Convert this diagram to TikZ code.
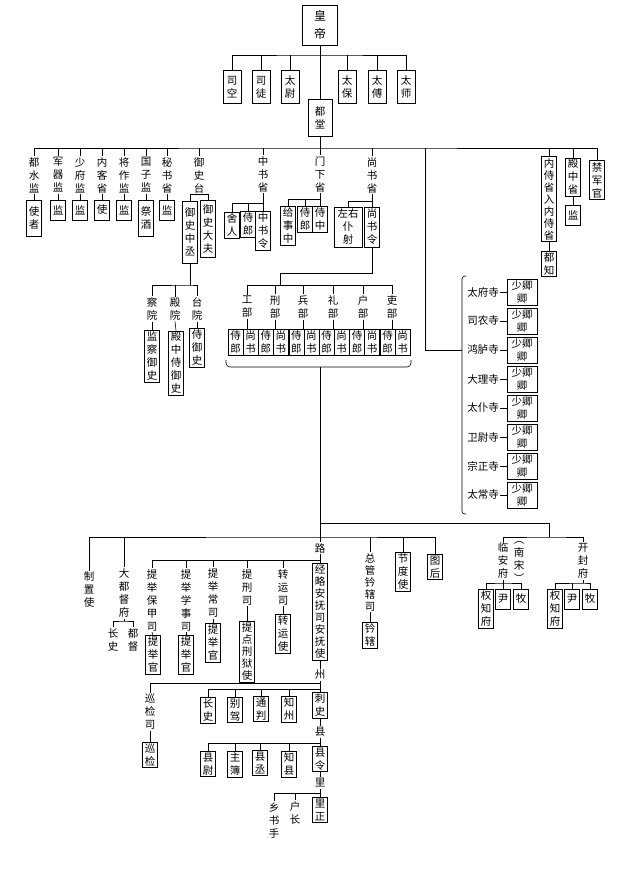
\documentclass[tikz,border=0pt]{standalone}
\usepackage{fontspec}
\newfontfamily\cjk{Noto Sans CJK SC}
\tikzset{
  box/.style = {draw, align=center, inner sep=1.5pt, minimum width=15pt, minimum height=20pt, font=\cjk\fontsize{10.5}{13}\selectfont},
  lbl/.style = {align=center, inner sep=1pt, font=\cjk\fontsize{10.5}{13}\selectfont},
  tightfont/.style = {font=\cjk\fontsize{10.5}{12}\selectfont}
}
\begin{document}
\begin{tikzpicture}[x=1pt, y=-1pt, line width=0.6pt]
\useasboundingbox (0,0) rectangle (640,870);

\node[box, minimum width=35pt, minimum height=40pt, font=\cjk\fontsize{12}{18}\selectfont] (hd) at (320,25) {皇\\帝};
\node[box, minimum width=18pt, minimum height=33pt] (sk) at (232,87) {司\\空};
\node[box, minimum width=18pt, minimum height=33pt] (st) at (261,87) {司\\徒};
\node[box, minimum width=18pt, minimum height=33pt] (tw) at (290,87) {太\\尉};
\node[box, minimum width=18pt, minimum height=33pt] (tb) at (347,87) {太\\保};
\node[box, minimum width=18pt, minimum height=33pt] (tf) at (377,87) {太\\傅};
\node[box, minimum width=18pt, minimum height=33pt] (ts) at (406,87) {太\\师};
\node[box, minimum width=24pt, minimum height=37pt] (dt) at (320,118) {都\\堂};
\coordinate (b1) at (320,55);
\coordinate (b2) at (320,148);
\draw (hd) -- (dt);
\draw (sk.north) |- (b1) -| (ts.north);
\foreach \n in {st,tw,tb,tf} \draw (\n.north) -- (\n.north |- b1);
\draw (dt.south) -- (b2);

\node[lbl] (dsj) at (34,175) {都\\水\\监};
\node[lbl] (jqj) at (58,175) {军\\器\\监};
\node[lbl] (sfj) at (80,175) {少\\府\\监};
\node[lbl] (nks) at (102,175) {内\\客\\省};
\node[lbl] (jzj) at (124,175) {将\\作\\监};
\node[lbl] (gzj) at (146,175) {国\\子\\监};
\node[lbl] (msx) at (167,175) {秘\\书\\省};
\node[lbl] (yst) at (199,175) {御\\史\\台};
\node[box, minimum height=36pt] (dsjb) at (34,218) {使\\者};
\node[box] (jqjb) at (58,210) {监};
\node[box] (sfjb) at (80,210) {监};
\node[box] (nksb) at (102,210) {使};
\node[box] (jzjb) at (124,210) {监};
\node[box, minimum height=36pt] (gzjb) at (146,218) {祭\\酒};
\node[box] (msxb) at (167,210) {监};
\foreach \n in {dsj,jqj,sfj,nks,jzj,gzj,msx} \draw (\n.south) -- (\n b.north);
\node[box, minimum height=62pt] (yszc) at (190,232) {御\\史\\中\\丞};
\node[box, minimum height=57pt] (ysdf) at (208,229) {御\\史\\大\\夫};
\draw (yszc.north) |- (yst.south) -| (ysdf.north);

\node[lbl] (zsx) at (263,174) {中\\书\\省};
\node[box] (sheren) at (232,225) {舍\\人};
\node[box] (zslang) at (248,224) {侍\\郎};
\node[box] (zsl) at (263,231) {中\\书\\令};
\coordinate (zsbus) at (263,203);
\draw (zsx.south) -- (zsl.north);
\draw (sheren.north) |- (zsbus);
\draw (zslang.north) -- (zslang.north |- zsbus);

\node[lbl] (mxs) at (320,174) {门\\下\\省};
\node[box] (jsz) at (288,226) {给\\事\\中};
\node[box] (mxlang) at (305,219) {侍\\郎};
\node[box] (sz) at (320,219) {侍\\中};
\coordinate (mxbus) at (320,199);
\draw (mxs.south) -- (sz.north);
\draw (jsz.north) |- (mxbus);
\draw (mxlang.north) -- (mxlang.north |- mxbus);

\node[lbl] (ssx) at (372,175) {尚\\书\\省};
\node[box, minimum width=28pt, minimum height=40pt] (zypy) at (348,227) {左右\\仆\\射};
\node[box, minimum height=40pt] (sssl) at (372,227) {尚\\书\\令};
\coordinate (ssbus) at (372,201);
\draw (ssx.south) -- (sssl.north);
\draw (zypy.north) |- (ssbus);

\node[box, tightfont] (nsj) at (549,199) {内\\侍\\省\\入\\内\\侍\\省};
\node[box] (dzj) at (549,264) {都\\知};
\node[box] (dzs) at (573,177) {殿\\中\\省};
\node[box] (dzsj) at (573,215) {监};
\node[box] (jjg) at (597,180) {禁\\军\\官};
\draw (nsj.south) -- (dzj.north);
\draw (dzs.south) -- (dzsj.north);

\draw (dsj.north) |- (b2) -| (jjg.north);
\foreach \n in {jqj,sfj,nks,jzj,gzj,msx,yst,zsx,mxs,ssx,nsj,dzs} \draw (\n.north) -- (\n.north |- b2);

\coordinate (sbA) at (280,273);
\coordinate (sbB) at (280,285);
\draw (sssl.south) |- (sbA) -- (sbB);
\foreach \a/\b/\x [count=\i] in {工/部/247, 刑/部/275, 兵/部/303, 礼/部/333, 户/部/363, 吏/部/392} {
  \node[lbl] (bu\i) at (\x,307) {\a\\\b};
  \node[box] (bsl\i) at ({235.5+30.4*(\i-1)},342) {侍\\郎};
  \node[box] (bss\i) at ({250.5+30.4*(\i-1)},342) {尚\\书};
  \draw (bu\i.north) -- (bu\i.north |- sbB);
  \draw (bu\i.south) -- (bu\i.south |- bsl\i.north);
}
\draw (bu1.north |- sbB) -- (bu6.north |- sbB);
\coordinate (brL) at (226,360);
\coordinate (brR) at (411,360);
\coordinate (brM) at (320,367);
\draw[rounded corners=4pt] (brL) |- (brM) -| (brR);

\coordinate (ysb) at (190,285);
\node[lbl] (cy) at (152,309) {察\\院};
\node[lbl] (dy) at (175,309) {殿\\院};
\node[lbl] (ty) at (197,309) {台\\院};
\node[box] (jcys) at (152,356) {监\\察\\御\\史};
\node[box] (dzsy) at (176,363) {殿\\中\\侍\\御\\史};
\node[box] (sys) at (197,348) {侍\\御\\史};
\draw (yszc.south) -- (ysb);
\draw (cy.north) |- (ysb) -| (ty.north);
\draw (dy.north) -- (dy.north |- ysb);
\draw (cy.south) -- (jcys.north);
\draw (dy.south) -- (dzsy.north);
\draw (ty.south) -- (sys.north);

\coordinate (rv1) at (425,148);
\coordinate (rv2) at (425,350);
\coordinate (bt) at (466,276);
\coordinate (bm) at (462,350);
\coordinate (bb) at (466,514);
\draw (rv1) -- (rv2) -- (bm);
\draw[rounded corners=3pt] (bt) -| (bm) |- (bb);
\foreach \t [count=\i] in {太府寺,司农寺,鸿胪寺,大理寺,太仆寺,卫尉寺,宗正寺,太常寺} {
  \node[lbl] (si\i) at (483,{263+29*\i}) {\t};
  \node[box, minimum width=30pt] (sq\i) at (522,{263+29*\i}) {少卿\\卿};
  \draw (si\i) -- (sq\i);
}

\coordinate (rb1) at (320,523);
\coordinate (rb2) at (549,523);
\coordinate (rb3) at (549,537);
\coordinate (lbus) at (320,537);
\draw (rb1) -- (rb2) -- (rb3);

\node[lbl] (zzs) at (89,590) {制\\置\\使};
\node[lbl] (ddd) at (124,593) {大\\都\\督\\府};
\node[lbl] (cs) at (113,640) {长\\史};
\node[lbl] (dd) at (133,640) {都\\督};
\coordinate (ddbus) at (124,621);
\draw (ddd.south) -- (ddbus);
\draw (cs.north) |- (ddbus) -| (dd.north);

\node[lbl] (lu) at (320,548) {路};
\node[box, tightfont] (jlas) at (320,612) {经\\略\\安\\抚\\司\\安\\抚\\使};
\coordinate (lubus) at (320,560);
\draw (brM) -- (lu.north);
\draw (lu.south) -- (jlas.north);

\node[lbl] (tjbj) at (152,600) {提\\举\\保\\甲\\司};
\node[lbl] (tjxs) at (186,600) {提\\举\\学\\事\\司};
\node[lbl] (tjcp) at (213,593) {提\\举\\常\\司};
\node[lbl] (txs) at (247,587) {提\\刑\\司};
\node[lbl] (zys) at (283,587) {转\\运\\司};
\node[box] (tjg1) at (153,655) {提\\举\\官};
\node[box] (tjg2) at (186,655) {提\\举\\官};
\node[box] (tjg3) at (213,643) {提\\举\\官};
\node[box, tightfont] (tdx) at (247,652) {提\\点\\刑\\狱\\使};
\node[box] (zysh) at (283,634) {转\\运\\使};
\draw (tjbj.north) |- (lubus);
\foreach \n in {tjxs,tjcp,txs,zys} \draw (\n.north) -- (\n.north |- lubus);
\draw (tjbj.south) -- (tjg1.north);
\draw (tjxs.south) -- (tjg2.north);
\draw (tjcp.south) -- (tjg3.north);
\draw (txs.south) -- (tdx.north);
\draw (zys.south) -- (zysh.north);

\node[lbl, tightfont] (zgqx) at (370,582) {总\\管\\钤\\辖\\司};
\node[box] (qx) at (370,635) {钤\\辖};
\node[box] (jds) at (403,572) {节\\度\\使};
\node[box] (th) at (435,567) {图\\后};
\draw (zgqx.south) -- (qx.north);
\draw (zzs.north) |- (lbus) -| (th.north);
\foreach \n in {ddd,zgqx,jds} \draw (\n.north) -- (\n.north |- lbus);

\node[lbl] (lan) at (503,561) {临\\安\\府};
\node[lbl] (nsong) at (519,562) {︵\\南\\宋\\︶};
\node[box] (lqzf) at (486,609) {权\\知\\府};
\node[box] (lyin) at (503,599) {尹};
\node[box] (lmu) at (521,599) {牧};
\coordinate (lanbus) at (503,583);
\draw (lan.south) -- (lanbus);
\draw (lqzf.north) |- (lanbus) -| (lmu.north);
\draw (lyin.north) -- (lyin.north |- lanbus);

\node[lbl] (kf) at (583,561) {开\\封\\府};
\node[box] (kqzf) at (555,609) {权\\知\\府};
\node[box] (kyin) at (572,599) {尹};
\node[box] (kmu) at (590,599) {牧};
\coordinate (kfbus) at (583,583);
\draw (kf.south) -- (kfbus);
\draw (kqzf.north) |- (kfbus) -| (kmu.north);
\draw (kyin.north) -- (kyin.north |- kfbus);
\draw (lan.north) |- (rb3) -| (kf.north);

\node[lbl] (zhou) at (320,675) {州};
\node[box] (cishi) at (320,705) {刺\\史};
\node[lbl] (xjs) at (150,712) {巡\\检\\司};
\node[box] (xj) at (150,755) {巡\\检};
\node[box] (zcs) at (208,710) {长\\史};
\node[box] (bj) at (235,710) {别\\驾};
\node[box] (tp) at (261,709) {通\\判};
\node[box] (zz) at (289,709) {知\\州};
\coordinate (zbus1) at (320,683);
\coordinate (zbus2) at (320,689);
\draw (jlas.south) -- (zhou.north);
\draw (zhou.south) -- (cishi.north);
\draw (xjs.north) |- (zbus1);
\draw (xjs.south) -- (xj.north);
\draw (zcs.north) |- (zbus2);
\foreach \n in {bj,tp,zz} \draw (\n.north) -- (\n.north |- zbus2);

\node[lbl] (xian) at (320,732) {县};
\node[box] (xl) at (320,759) {县\\令};
\node[box] (xw) at (208,764) {县\\尉};
\node[box] (zb) at (235,764) {主\\簿};
\node[box] (xc) at (260,763) {县\\丞};
\node[box] (zx) at (289,764) {知\\县};
\coordinate (xbus) at (320,743);
\draw (cishi.south) -- (xian.north);
\draw (xian.south) -- (xl.north);
\draw (xw.north) |- (xbus);
\foreach \n in {zb,xc,zx} \draw (\n.north) -- (\n.north |- xbus);

\node[lbl] (li) at (320,783) {里};
\node[box] (lz) at (320,810) {里\\正};
\node[lbl] (hz) at (295,813) {户\\长};
\node[lbl] (xss) at (274,820) {乡\\书\\手};
\coordinate (libus) at (320,793);
\draw (xl.south) -- (li.north);
\draw (li.south) -- (lz.north);
\draw (xss.north) |- (libus);
\draw (hz.north) -- (hz.north |- libus);
\end{tikzpicture}
\end{document}
